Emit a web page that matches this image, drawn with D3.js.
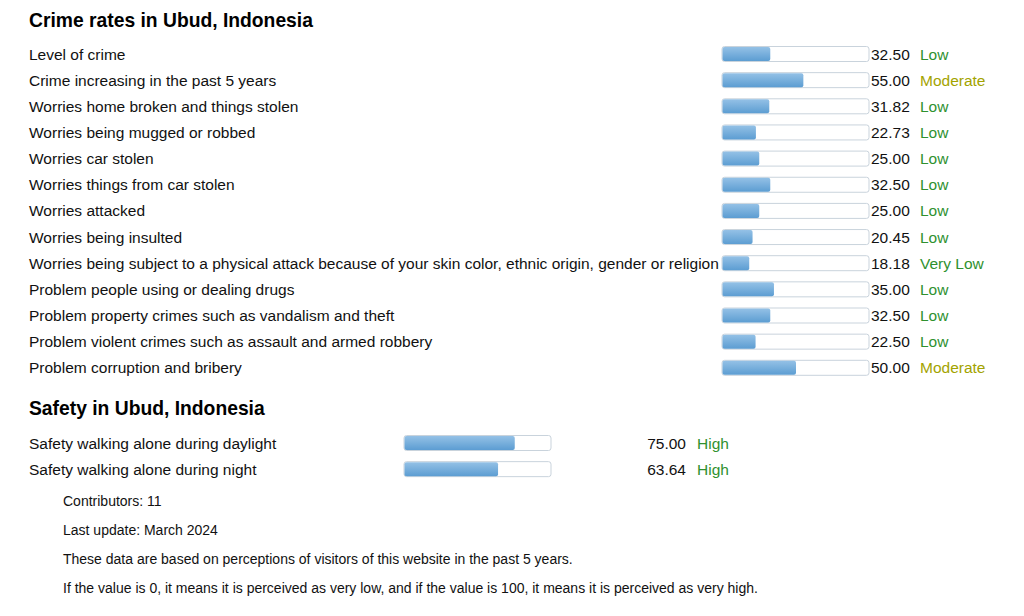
<!DOCTYPE html>
<html><head><meta charset="utf-8">
<script src="https://cdn.jsdelivr.net/npm/d3@7"></script>
<style>body{margin:0;background:#fff;font-family:"Liberation Sans",Arial,sans-serif;}</style>
</head><body><svg id="c" width="1024" height="616"></svg>
<script>
const crimeLabels = ["Level of crime","Crime increasing in the past 5 years","Worries home broken and things stolen","Worries being mugged or robbed","Worries car stolen","Worries things from car stolen","Worries attacked","Worries being insulted","Worries being subject to a physical attack because of your skin color, ethnic origin, gender or religion","Problem people using or dealing drugs","Problem property crimes such as vandalism and theft","Problem violent crimes such as assault and armed robbery","Problem corruption and bribery"];
const crimeValues = [32.50,55.00,31.82,22.73,25.00,32.50,25.00,20.45,18.18,35.00,32.50,22.50,50.00];
const crimeRatings = ["Low","Moderate","Low","Low","Low","Low","Low","Low","Very Low","Low","Low","Low","Moderate"];
const safetyLabels = ["Safety walking alone during daylight","Safety walking alone during night"];
const safetyValues = [75.00,63.64];
const safetyRatings = ["High","High"];
const footerLines = ["Contributors: 11","Last update: March 2024","These data are based on perceptions of visitors of this website in the past 5 years.","If the value is 0, it means it is perceived as very low, and if the value is 100, it means it is perceived as very high."];

const svg = d3.select("#c");
const ratingColor = r => r==="Moderate" ? "#a3a300" : "#2f912f";
const defs = svg.append("defs");
const g = defs.append("linearGradient").attr("id","bf").attr("x1",0).attr("y1",0).attr("x2",0).attr("y2",1);
g.append("stop").attr("offset","0%").attr("stop-color","#94c1e6");
g.append("stop").attr("offset","100%").attr("stop-color","#5c9dd2");

function section(title, titleY, labels, values, ratings, y0, barX, valX, valAnchor, ratX){
  svg.append("text").attr("x",29).attr("y",titleY).attr("font-size",19.3).attr("font-weight","bold").attr("fill","#000").text(title);
  const y = d3.scaleLinear().domain([0,1]).range([y0, y0+26.15]);
  const x = d3.scaleLinear().domain([0,100]).range([0,147]);
  const rows = svg.append("g").selectAll("g").data(labels).join("g").attr("transform",(d,i)=>`translate(0,${y(i)})`);
  rows.append("text").attr("x",29).attr("y",5.5).attr("font-size",15.5).attr("fill","#111").text(d=>d);
  rows.append("rect").attr("x",barX).attr("y",-7.5).attr("width",x(100)).attr("height",15).attr("rx",2.5)
     .attr("fill","#fff").attr("stroke","#c9d3dc").attr("stroke-width",1);
  rows.append("rect").attr("x",barX+0.5).attr("y",-7).attr("width",(d,i)=>x(values[i])).attr("height",14).attr("rx",2)
     .attr("fill","url(#bf)");
  rows.append("text").attr("x",valX).attr("y",5.5).attr("text-anchor",valAnchor).attr("font-size",15.5).attr("fill","#111").text((d,i)=>values[i].toFixed(2));
  rows.append("text").attr("x",ratX).attr("y",5.5).attr("font-size",15.5).attr("fill",(d,i)=>ratingColor(ratings[i])).text((d,i)=>ratings[i]);
}
section("Crime rates in Ubud, Indonesia", 27, crimeLabels, crimeValues, crimeRatings, 54, 722, 871, "start", 920);
section("Safety in Ubud, Indonesia", 415, safetyLabels, safetyValues, safetyRatings, 443, 404, 686, "end", 697);

svg.append("g").selectAll("text").data(footerLines).join("text")
  .attr("x",63).attr("y",(d,i)=>506+i*29).attr("font-size",14).attr("fill","#111").text(d=>d);
</script></body></html>
